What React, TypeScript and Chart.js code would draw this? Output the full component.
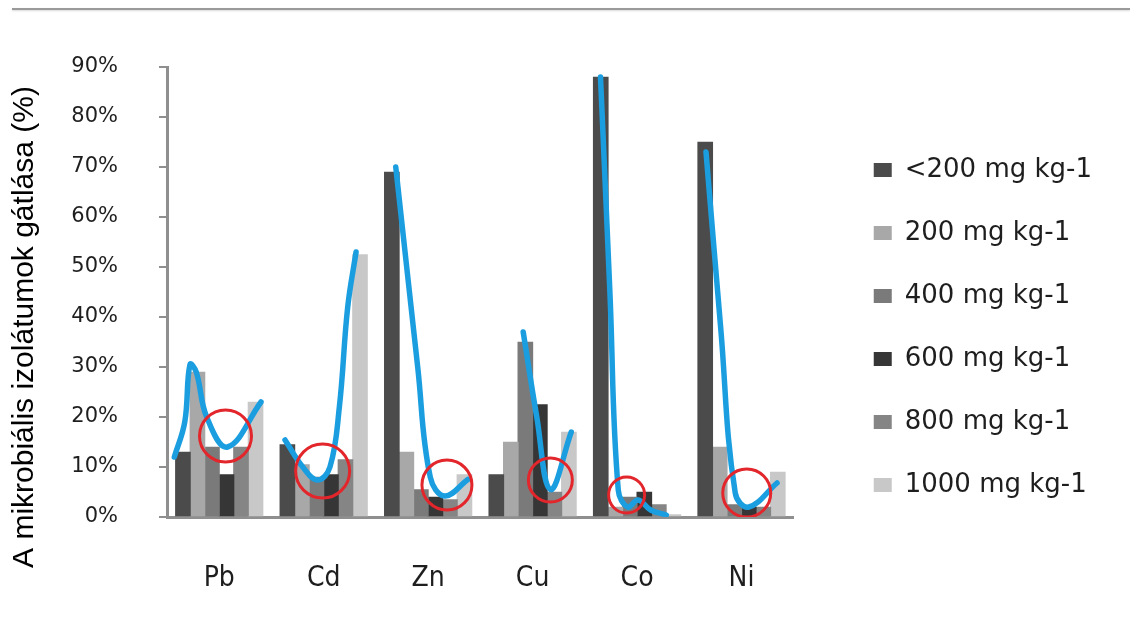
import React, { useEffect, useRef } from "react";
import { Chart, registerables } from "chart.js";

Chart.register(...registerables);

// Heavy metals on the category axis
const metals = ["Pb", "Cd", "Zn", "Cu", "Co", "Ni"];

// Concentration groups (legend)
const doseLabels = [
  "<200 mg kg-1",
  "200 mg kg-1",
  "400 mg kg-1",
  "600 mg kg-1",
  "800 mg kg-1",
  "1000 mg kg-1",
];

// Inhibition of microbial isolates (%) per metal
const below200 = [13, 14.5, 69, 8.5, 88, 75];
const dose200 = [29, 10.5, 13, 15, 2, 14];
const dose400 = [14, 8, 5.5, 35, 4, 2.5];
const dose600 = [8.5, 8.5, 4, 22.5, 5, 2];
const dose800 = [14, 11.5, 3.5, 5, 2.5, 2];
const dose1000 = [23, 52.5, 8.5, 17, 0.5, 9];

const yTicks = [0, 10, 20, 30, 40, 50, 60, 70, 80, 90];
const yAxisTitle = "A mikrobiális izolátumok gátlása (%)";

// Hand-drawn trend strokes: [category position, percent]
const pbTrend = [[-0.43, 12], [-0.33, 19], [-0.28, 30.5], [-0.22, 29], [-0.12, 20], [0.08, 14], [0.4, 23]];
const cdTrend = [[0.63, 15.4], [0.8, 10], [0.94, 7.4], [1.06, 10], [1.15, 22], [1.23, 42], [1.31, 53]];
const znTrend = [[1.69, 70], [1.9, 30], [2.02, 8], [2.16, 4.2], [2.38, 7.5]];
const cuTrend = [[2.91, 37], [3.04, 20], [3.17, 5.5], [3.37, 17]];
const coTrend = [[3.65, 88], [3.74, 45], [3.82, 5.4], [3.91, 2], [4.01, 3.4], [4.13, 1.4], [4.28, 0.4]];
const niTrend = [[4.66, 73], [4.8, 38], [4.94, 4.8], [5.07, 2], [5.34, 6.8]];

// Highlighted minima: [category position, percent]
const minimaMarks = [[0.06, 16.2], [0.99, 9.2], [2.18, 6.4], [3.17, 7.4], [3.9, 4.4], [5.05, 4.8]];

const doseSeries = [below200, dose200, dose400, dose600, dose800, dose1000];
const trends = [pbTrend, cdTrend, znTrend, cuTrend, coTrend, niTrend];

const barColors = ["#4b4b4b", "#a8a8a8", "#7a7a7a", "#363636", "#858585", "#c8c8c8"];
const markRadii = [26, 27, 25, 22, 18, 24];

// Width of one bar slot inside a metal group, in category units
const slotWidth = 0.139;

// Rotated caption beside the value axis, centred on the full plot column
const sideTitle = {
  id: "sideTitle",
  afterDraw(chart: any) {
    const { ctx } = chart;
    ctx.save();
    ctx.translate(25, 327);
    ctx.rotate(-Math.PI / 2);
    ctx.font = "30px 'Liberation Sans', Arial, sans-serif";
    ctx.fillStyle = "#000";
    ctx.textAlign = "center";
    ctx.textBaseline = "middle";
    ctx.fillText(yAxisTitle, 0, 0);
    ctx.restore();
  },
};

export default function App() {
  const canvasRef = useRef<HTMLCanvasElement | null>(null);

  useEffect(() => {
    document.body.style.margin = "0";
    const canvas = canvasRef.current;
    if (!canvas) return;

    // Each concentration gets its own slot beside the metal's centre
    const barSets = doseSeries.map((values, i) => ({
      type: "bar" as const,
      label: doseLabels[i],
      data: values.map((v, j) => ({ x: j + (i - 2.5) * slotWidth, y: v })),
      grouped: false,
      barThickness: 15,
      backgroundColor: barColors[i],
      borderWidth: 0,
      xAxisID: "xc",
      yAxisID: "y",
      order: 3,
    }));

    const trendSets = trends.map((pts, i) => ({
      type: "scatter" as const,
      label: "trend-" + metals[i],
      data: pts.map(([x, y]) => ({ x, y })),
      showLine: true,
      borderColor: "#1b9ee0",
      borderWidth: 5.5,
      borderCapStyle: "round" as const,
      borderJoinStyle: "round" as const,
      pointRadius: 0,
      pointHoverRadius: 0,
      tension: 0.4,
      fill: false,
      xAxisID: "xc",
      yAxisID: "y",
      order: 2,
    }));

    const markSet = {
      type: "scatter" as const,
      label: "minima",
      data: minimaMarks.map(([x, y]) => ({ x, y })),
      pointRadius: markRadii,
      pointHoverRadius: markRadii,
      pointStyle: "circle" as const,
      backgroundColor: "rgba(0,0,0,0)",
      borderColor: "#e2262b",
      pointBorderWidth: 3,
      borderWidth: 3,
      xAxisID: "xc",
      yAxisID: "y",
      order: 1,
    };

    const chart = new Chart(canvas, {
      type: "bar",
      data: {
        labels: metals,
        datasets: [...barSets, ...trendSets, markSet] as any,
      },
      plugins: [sideTitle],
      options: {
        responsive: false,
        animation: false,
        layout: { padding: { left: 4, top: 22, right: 28, bottom: 0 } },
        plugins: {
          tooltip: { enabled: false },
          legend: {
            position: "right",
            align: "center",
            maxWidth: 400,
            labels: {
              filter: (item: any) => item.datasetIndex < 6,
              font: { family: "'DejaVu Sans', sans-serif", size: 26 },
              color: "#1e1e1e",
              boxWidth: 18,
              boxHeight: 14,
              padding: 37,
            },
          },
        },
        scales: {
          x: {
            type: "category",
            offset: true,
            grid: { display: false, drawTicks: false },
            border: { display: true, color: "#8f8f8f", width: 3 },
            afterFit: (scale: any) => {
              scale.height = 116;
            },
            ticks: {
              padding: 45,
              color: "#1e1e1e",
              font: { family: "'Liberation Sans Narrow', 'DejaVu Sans Condensed', sans-serif", size: 28 },
            },
          },
          xc: {
            type: "linear",
            position: "bottom",
            display: false,
            offset: false,
            min: -0.5,
            max: 5.5,
          },
          gapTop: {
            type: "linear",
            position: "top",
            display: true,
            offset: false,
            grid: { display: false, drawTicks: false },
            border: { display: false },
            ticks: { display: false },
            afterFit: (scale: any) => {
              scale.height = 45;
            },
          },
          y: {
            type: "linear",
            position: "left",
            min: 0,
            max: 90,
            afterBuildTicks: (scale: any) => {
              scale.ticks = yTicks.map((v) => ({ value: v }));
            },
            afterFit: (scale: any) => {
              scale.width = 163;
            },
            grid: {
              display: true,
              drawOnChartArea: false,
              drawTicks: true,
              tickLength: 8,
              color: "#8f8f8f",
              lineWidth: 2,
            },
            border: { display: true, color: "#8f8f8f", width: 3 },
            ticks: {
              padding: 41,
              color: "#1e1e1e",
              font: { family: "'DejaVu Sans', sans-serif", size: 21 },
              callback: (v: any) => v + "%",
            },
          },
          gap: {
            type: "linear",
            position: "right",
            display: true,
            grid: { display: false, drawTicks: false },
            border: { display: false },
            ticks: { display: false },
            afterFit: (scale: any) => {
              scale.width = 43;
            },
          },
        },
      },
    });

    return () => chart.destroy();
  }, []);

  return (
    <div style={{ position: "relative", width: 1130, height: 633, background: "#fff", overflow: "hidden" }}>
      <div
        style={{
          position: "absolute",
          left: 12,
          right: 0,
          top: 8,
          height: 0,
          borderTop: "2px solid #9a9a9a",
          boxShadow: "0 1px 2px #d8d8d8",
        }}
      />
      <canvas ref={canvasRef} width={1130} height={633} style={{ display: "block" }} />
    </div>
  );
}
